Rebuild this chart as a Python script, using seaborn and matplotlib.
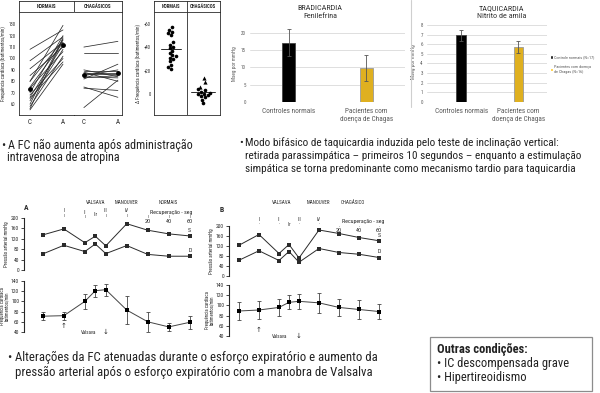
import matplotlib
matplotlib.use('Agg')
import matplotlib.pyplot as plt
import matplotlib.transforms as mtransforms
from matplotlib import font_manager
from matplotlib.lines import Line2D
from matplotlib.patches import Patch, Rectangle
import numpy as np
import pandas as pd
import seaborn as sns

# ---------------- dados ----------------
# atropina: FC controle (C) e apos atropina (A)
normais_C = [108, 98, 91, 85, 80, 80, 75, 74, 70, 68, 66, 65, 63, 60, 58, 56, 55]
normais_A = [125, 119, 114, 110, 129, 116, 114, 106, 120, 100, 112, 97, 108, 118, 102, 117, 95]
chagas_C = [110, 105, 90, 89, 88, 87, 86, 85, 84, 83, 82, 75, 74, 57]
chagas_A = [115, 105, 84, 89, 80, 87, 86, 90, 83, 85, 95, 66, 72, 81]

# delta FC
delta_normais = [57, 55, 53, 52, 50, 44, 42, 40, 39, 37, 35, 33, 32, 31, 30, 28, 25, 23, 21]
delta_chagas = [4, 3, 2, 1, 0, 0, -1, -2, -3, -5, -8]
delta_chagas_tri = [14, 10, 6]

# barras
grupos_barras = ['Controles normais', 'Pacientes com\ndoença de Chagas']
bradi_media = [17.2, 9.8]
bradi_erro = [3.8, 3.8]
taqui_media = [6.9, 5.7]
taqui_erro = [0.6, 0.6]
legenda_barras = ['Controle normais (N=17)', 'Pacientes com doença\nde Chagas (N=16)']

# Valsalva: fases basal, I, II, IIr, III, IV, 20, 40, 60 s
fases = [0, 1, 2, 2.5, 3, 4, 5, 6, 7]
A_sist = [135, 158, 105, 130, 93, 178, 153, 139, 131]
A_diast = [62, 95, 71, 100, 63, 94, 60, 53, 53]
A_fc = [71, 72, 100, 121, 123, 83, 60, 50, 59]
A_fc_erro = [8, 8, 15, 12, 12, 28, 20, 8, 13]
B_sist = [123, 166, 90, 126, 72, 184, 170, 154, 141]
B_diast = [63, 101, 62, 98, 55, 110, 94, 87, 74]
B_fc = [89, 91, 96, 106, 108, 105, 96, 92, 88]
B_fc_erro = [18, 18, 17, 14, 15, 20, 17, 18, 15]

W, H = 600, 393


def pick(names):
    for n in names:
        try:
            font_manager.findfont(n, fallback_to_default=False)
            return n
        except Exception:
            pass
    return 'DejaVu Sans'


sns.set_style('white')
NARROW = pick(['Liberation Sans Narrow', 'Roboto Condensed', 'Liberation Sans'])
plt.rcParams['font.family'] = [NARROW, 'DejaVu Sans']
plt.rcParams['axes.linewidth'] = 0.6

fig = plt.figure(figsize=(W / 100, H / 100), dpi=100)
fig.patch.set_facecolor('white')


def pax(x0, y0, x1, y1):
    return fig.add_axes([x0 / W, 1 - y1 / H, (x1 - x0) / W, (y1 - y0) / H])


def ftext(x, y, s, **kw):
    kw.setdefault('va', 'center')
    fig.text(x / W, 1 - y / H, s, **kw)


def xtext(ax, x, ypx, s, **kw):
    tr = mtransforms.blended_transform_factory(ax.transData, fig.transFigure)
    kw.setdefault('ha', 'center')
    kw.setdefault('va', 'center')
    ax.text(x, 1 - ypx / H, s, transform=tr, clip_on=False, **kw)


INK = '#2b2b2b'

# ---------------- painel atropina (linhas) ----------------
def long_df(c, a):
    return pd.DataFrame({'id': list(range(len(c))) * 2,
                         'tempo': [0] * len(c) + [1] * len(a),
                         'fc': c + a})


hdr = pax(19, 0.5, 122, 12)
hdr.set_xlim(19, 122)
hdr.set_ylim(0, 1)
hdr.set_xticks([])
hdr.set_yticks([])
hdr.axvline(74, color=INK, lw=0.6)
hdr.text(46.5, 0.5, 'NORMAIS', ha='center', va='center', fontsize=3.6, fontweight='bold')
hdr.text(98, 0.5, 'CHAGÁSICOS', ha='center', va='center', fontsize=3.6, fontweight='bold')

for spec in [(19, 74, normais_C, normais_A, (-0.333, 1.333)),
             (74, 122, chagas_C, chagas_A, (-0.29, 1.12))]:
    x0, x1, c, a, xl = spec
    ax = pax(x0, 12, x1, 115)
    sns.lineplot(data=long_df(c, a), x='tempo', y='fc', units='id', estimator=None,
                 color=INK, lw=0.55, ax=ax)
    ax.scatter([0, 1], [np.mean(c), np.mean(a)], s=6, color='black', zorder=3)
    ax.set_xlim(*xl)
    ax.set_ylim(50.5, 140.7)
    ax.set_xticks([0, 1])
    ax.set_xticklabels(['C', 'A'], fontsize=5)
    ax.tick_params(axis='x', length=0, pad=3)
    ax.set_xlabel('')
    for s in ax.spines.values():
        s.set_color(INK)
    if x0 == 19:
        ax.set_yticks(range(60, 131, 10))
        ax.tick_params(axis='y', labelsize=3.4, length=1.5, width=0.4, pad=1)
        ax.set_ylabel('Frequência cardíaca (batimentos/min)', fontsize=3.5, labelpad=2)
    else:
        ax.set_yticks([])
        ax.set_ylabel('')
        ax.spines['left'].set_visible(False)

# ---------------- painel delta FC ----------------
hdr2 = pax(154, 0.5, 220, 12)
hdr2.set_xlim(-0.55, 1.55)
hdr2.set_ylim(0, 1)
hdr2.set_xticks([])
hdr2.set_yticks([])
hdr2.axvline(0.5, color=INK, lw=0.6)
hdr2.text(0, 0.5, 'NORMAIS', ha='center', va='center', fontsize=3.4, fontweight='bold')
hdr2.text(1, 0.5, 'CHAGÁSICOS', ha='center', va='center', fontsize=3.4, fontweight='bold')

axD = pax(154, 12, 220, 115)
df_delta = pd.DataFrame({'grupo': ['N'] * len(delta_normais) + ['C'] * len(delta_chagas),
                         'delta': delta_normais + delta_chagas})
sns.swarmplot(data=df_delta, x='grupo', y='delta', order=['N', 'C'], color='black',
              size=2.6, ax=axD)
sns.stripplot(x=['C'] * len(delta_chagas_tri), y=delta_chagas_tri, order=['N', 'C'],
              marker='^', color='black', size=3, jitter=0.25, ax=axD)
med_n = np.mean(delta_normais)
med_c = np.mean(delta_chagas + delta_chagas_tri)
axD.plot([-0.32, 0.32], [med_n, med_n], color=INK, lw=0.7)
axD.plot([0.62, 1.38], [med_c, med_c], color=INK, lw=0.7)
axD.axvline(0.5, color=INK, lw=0.6)
axD.set_xlim(-0.55, 1.55)
axD.set_ylim(-18, 70)
axD.set_xticks([])
axD.set_xlabel('')
axD.set_yticks([0, 20, 40, 60])
axD.set_yticklabels(['0', '+20', '+40', '+60'])
axD.tick_params(axis='y', labelsize=3.4, length=1.5, width=0.4, pad=1)
axD.set_ylabel('Δ Frequência cardíaca (batimentos/min)', fontsize=3.5, labelpad=2)
for s in axD.spines.values():
    s.set_color(INK)

# ---------------- barras ----------------
CORES = ['black', '#FFC000']
GRAY_TXT = '#595959'


def barras(ax, medias, erros, ylim, step, xl):
    sns.barplot(x=grupos_barras, y=medias, hue=grupos_barras, palette=CORES, width=0.17,
                legend=False, ax=ax, zorder=2)
    for p, ec in zip(ax.patches, ['#444444', '#9a9a9a']):
        p.set_edgecolor(ec)
        p.set_linewidth(0.6)
    ax.errorbar(range(len(medias)), medias, yerr=erros, fmt='none', ecolor='#555555',
                elinewidth=0.6, capsize=1.5, capthick=0.6, zorder=3)
    ax.set_ylim(*ylim)
    ax.set_xlim(*xl)
    ax.set_yticks(np.arange(0, ylim[1] + 0.01, step))
    ax.yaxis.grid(True, color='#d9d9d9', lw=0.6)
    ax.set_axisbelow(True)
    sns.despine(ax=ax, left=True, bottom=True)
    ax.tick_params(axis='y', labelsize=3.6, labelcolor=GRAY_TXT, length=0, pad=3)
    ax.tick_params(axis='x', labelsize=5.2, labelcolor=GRAY_TXT, length=0, pad=4)
    ax.set_ylabel('Mseg por mmHg', fontsize=3.8, color=GRAY_TXT, labelpad=3)


axB = pax(250, 26, 405, 102)
barras(axB, bradi_media, bradi_erro, (0, 22), 5, (-0.5, 1.5))
axB.set_yticks([0, 5, 10, 15, 20])
ftext(320, 8, 'BRADICARDIA', ha='center', fontsize=5.9, color='#333333')
ftext(320, 15.5, 'Fenilefrina', ha='center', fontsize=5.9, color='#333333')

axT = pax(427, 22, 547, 102)
barras(axT, taqui_media, taqui_erro, (0, 8.3), 1, (-0.6, 1.5))
axT.set_yticks(range(0, 9))
ftext(502, 8, 'TAQUICARDIA', ha='center', fontsize=5.9, color='#333333')
ftext(502, 15.5, 'Nitrito de amila', ha='center', fontsize=5.9, color='#333333')

handles = [Patch(facecolor=c) for c in CORES]
fig.legend(handles, legenda_barras, loc='upper left', bbox_to_anchor=(550 / W, 1 - 55 / H),
           frameon=False, fontsize=3.0, handlelength=0.6, handleheight=0.9, handletextpad=0.35,
           labelspacing=1.3, labelcolor=GRAY_TXT, borderpad=0.1, borderaxespad=0)

fig.add_artist(Line2D([411 / W, 411 / W], [1 - 107 / H, 1.0], color='#cfcfcf', lw=0.8))

# ---------------- Valsalva ----------------
def bp_axes(ax, sist, diast, xl):
    sns.lineplot(x=fases, y=sist, marker='s', markersize=2.6, color=INK, lw=0.7,
                 markeredgewidth=0, ax=ax)
    sns.lineplot(x=fases, y=diast, marker='s', markersize=2.6, color=INK, lw=0.7,
                 markeredgewidth=0, ax=ax)
    ax.set_xlim(*xl)
    ax.set_ylim(0, 200)
    ax.set_yticks(range(0, 201, 40))
    ax.set_xticks([])
    sns.despine(ax=ax, bottom=True)
    ax.spines['left'].set_linewidth(0.8)
    ax.tick_params(axis='y', labelsize=4, length=2.5, width=0.6, pad=1, left=True)
    ax.set_ylabel('Pressão arterial mmHg', fontsize=3.6, labelpad=1.5)
    ax.text(fases[-1], sist[-1] + 12, 'S', ha='center', va='bottom', fontsize=4.2)
    ax.text(fases[-1], diast[-1] + 12, 'D', ha='center', va='bottom', fontsize=4.2)


def hr_axes(ax, fc, erro, xl):
    ax.errorbar(fases, fc, yerr=erro, fmt='none', ecolor='#444444', elinewidth=0.6,
                capsize=1.2, capthick=0.6)
    sns.lineplot(x=fases, y=fc, marker='s', markersize=2.6, color='#444444', lw=0.7,
                 markeredgewidth=0, markerfacecolor='black', ax=ax)
    ax.set_xlim(*xl)
    ax.set_ylim(40, 140)
    ax.set_yticks(range(40, 141, 20))
    ax.set_xticks([])
    sns.despine(ax=ax, bottom=True)
    ax.spines['left'].set_linewidth(0.8)
    ax.tick_params(axis='y', labelsize=4, length=2.5, width=0.6, pad=1, left=True)
    ax.set_ylabel('Frequência cardíaca\nbatimentos/min', fontsize=3.4, labelpad=1,
                  linespacing=0.95)


rotulos_fase = ['I', 'II', 'IIr', 'III', 'IV']

# A - normais
axAbp = pax(24, 218, 196, 270)
bp_axes(axAbp, A_sist, A_diast, (-0.9, 7.3))
axAhr = pax(24, 281, 196, 332)
hr_axes(axAhr, A_fc, A_fc_erro, (-0.9, 7.3))
xtext(axAbp, -0.9, 208, 'A', fontsize=5.5, fontweight='bold', ha='left')
xtext(axAbp, 2.5, 203, 'VALSAVA', fontsize=3.6)
xtext(axAbp, 4.0, 203, 'MANOUVER', fontsize=3.6)
xtext(axAbp, 6.0, 203, 'NORMAIS', fontsize=3.6)
for xv, r, yy in zip(fases[1:6], rotulos_fase, [211, 212, 214, 211, 211]):
    xtext(axAbp, xv, yy, r, fontsize=3.6)
    if r != 'IIr':
        xtext(axAbp, xv, yy + 4.5, '|', fontsize=3)
xtext(axAbp, 6.1, 212, 'Recuperação - seg', fontsize=4.2)
for xv, r in zip(fases[6:], ['20', '40', '60']):
    xtext(axAbp, xv, 217, '|', fontsize=3)
    xtext(axAbp, xv, 221.5, r, fontsize=4.4)
xtext(axAhr, 1, 326, '↑', fontsize=5)
xtext(axAhr, 2.2, 332, 'Valsava', fontsize=3.6)
xtext(axAhr, 3, 332, '↓', fontsize=5)

# B - chagasicos
axBbp = pax(229, 226, 386, 276)
bp_axes(axBbp, B_sist, B_diast, (-0.5, 7.35))
axBhr = pax(229, 285, 386, 336)
hr_axes(axBhr, B_fc, B_fc_erro, (-0.5, 7.35))
xtext(axBbp, -0.85, 209, 'B', fontsize=5.5, fontweight='bold')
xtext(axBbp, 2.15, 203, 'VALSAVA', fontsize=3.6)
xtext(axBbp, 3.95, 203, 'MANOUVER', fontsize=3.6)
xtext(axBbp, 5.7, 203, 'CHAGÁSICO', fontsize=3.6)
for xv, r, yy in zip(fases[1:6], rotulos_fase, [219, 219, 224, 219, 219]):
    if r == 'IIr':
        xtext(axBbp, xv, yy, r, fontsize=3.3)
    else:
        xtext(axBbp, xv, yy, r, fontsize=3.6)
        xtext(axBbp, xv, yy + 5, '·', fontsize=4)
xtext(axBbp, 6.2, 221, 'Recuperação - seg', fontsize=4.2)
for xv, r in zip(fases[6:], ['20', '40', '60']):
    xtext(axBbp, xv, 226.5, '·', fontsize=4)
    xtext(axBbp, xv, 231, r, fontsize=4.4)
xtext(axBhr, 1, 331, '↑', fontsize=5)
xtext(axBhr, 2.05, 336, 'Valsava', fontsize=3.6)
xtext(axBhr, 3, 336, '↓', fontsize=5)

# ---------------- textos ----------------
TXT = '#222222'
FS = 8.7
ftext(1, 145, '•', fontsize=FS, color=TXT)
ftext(8, 145, 'A FC não aumenta após administração', fontsize=FS, color=TXT)
ftext(7, 158, 'intravenosa de atropina', fontsize=FS, color=TXT)

FM = 8.15
ftext(239, 143, '•', fontsize=FM, color=TXT)
ftext(245, 143, 'Modo bifásico de taquicardia induzida pelo teste de inclinação vertical:',
      fontsize=FM, color=TXT)
ftext(245, 156, 'retirada parassimpática – primeiros 10 segundos – enquanto a estimulação',
      fontsize=FM, color=TXT)
ftext(245, 169, 'simpática se torna predominante como mecanismo tardio para taquicardia',
      fontsize=FM, color=TXT)

FB = 9.2
ftext(7, 357, '•', fontsize=FB, color=TXT)
ftext(15, 357, 'Alterações da FC atenuadas durante o esforço expiratório e aumento da',
      fontsize=FB, color=TXT)
ftext(15, 372, 'pressão arterial após o esforço expiratório com a manobra de Valsalva',
      fontsize=FB, color=TXT)

fig.add_artist(Rectangle((430 / W, 1 - 391 / H), 162 / W, 54 / H, transform=fig.transFigure,
                         fill=False, edgecolor='#8c8c8c', lw=0.9))
ftext(437, 349, 'Outras condições:', fontsize=9, fontweight='bold', color=TXT)
ftext(437, 364, '• IC descompensada grave', fontsize=9, color=TXT)
ftext(437, 378, '• Hipertireoidismo', fontsize=9, color=TXT)

fig.savefig('out.png', dpi=100)
